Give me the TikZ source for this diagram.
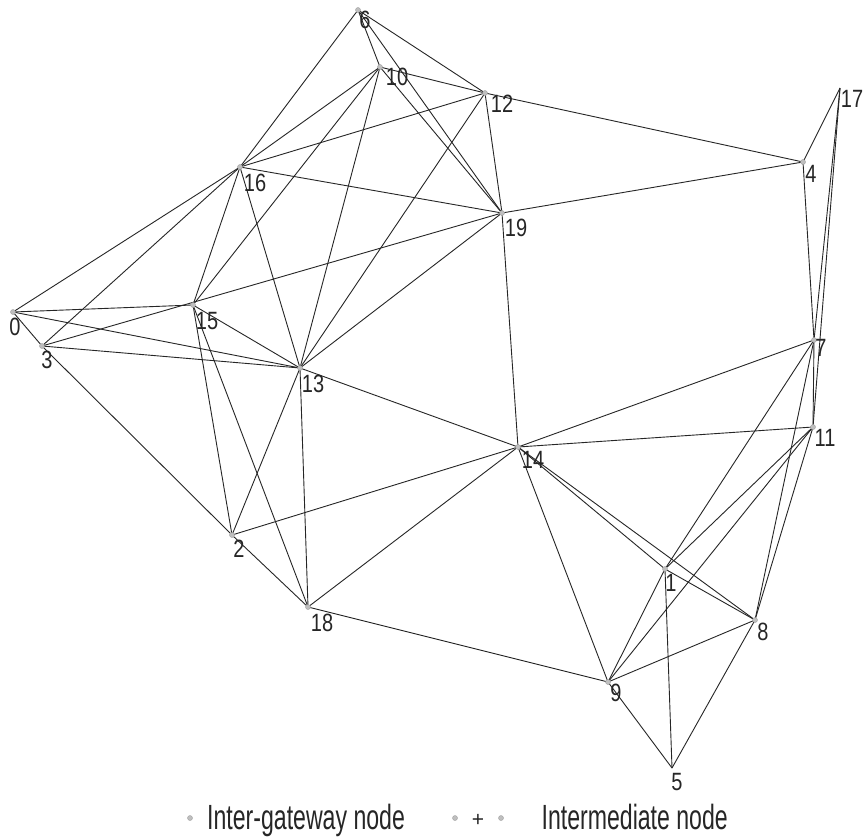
\documentclass[tikz,border=0pt]{standalone}
\usepackage{graphicx}
\usepackage{fontspec}
\setmainfont{Liberation Sans}
\newcommand{\nodelab}[1]{\scalebox{0.8}[1]{#1}}
\newcommand{\legtext}[1]{\scalebox{0.66}[1]{#1}}
\begin{document}
\begin{tikzpicture}[x=1pt,y=-1pt,
  edge/.style={draw=black!85, line width=0.9pt},
  vtx/.style={circle, fill=gray!50, draw=gray!75, line width=0.4pt, inner sep=0pt, minimum size=5pt},
  lbl/.style={inner sep=0pt, text=black!85, font=\fontsize{25}{25}\selectfont},
  leg/.style={inner sep=0pt, text=black!85, font=\fontsize{35}{35}\selectfont}]
\useasboundingbox (0,0) rectangle (864,838);
\fill[white] (0,0) rectangle (864,838);
% positions
\coordinate (c0) at (13,312);
\coordinate (c1) at (665,569);
\coordinate (c2) at (232,535);
\coordinate (c3) at (42,346);
\coordinate (c4) at (803,162);
\coordinate (c5) at (672,768);
\coordinate (c6) at (358,10);
\coordinate (c7) at (814,340);
\coordinate (c8) at (755,620);
\coordinate (c9) at (608,682);
\coordinate (c10) at (380,67);
\coordinate (c11) at (813,427);
\coordinate (c12) at (485,93);
\coordinate (c13) at (300,368);
\coordinate (c14) at (518,447);
\coordinate (c15) at (193,305);
\coordinate (c16) at (240,167);
\coordinate (c17) at (840,88);
\coordinate (c18) at (308,607);
\coordinate (c19) at (502,213);
% edges
\foreach \a/\b in {6/16,6/12,6/10,6/19,
  10/12,10/16,10/19,10/15,10/13,
  12/16,12/4,12/19,12/13,
  16/19,16/0,16/3,16/15,16/13,
  19/4,19/14,19/3,19/13,
  4/17,4/7,17/7,17/11,7/11,
  0/15,0/13,0/3,
  3/13,3/2,
  15/13,15/2,15/18,
  13/2,13/18,13/14,
  2/14,2/18,
  18/14,18/9,
  14/7,14/11,14/9,14/1,14/8,
  1/7,1/11,1/9,1/5,1/8,
  9/11,9/8,9/5,
  8/11,8/7,8/5}
  \draw[edge] (c\a) -- (c\b);
% vertices
\foreach \i in {0,1,2,3,4,6,7,8,9,10,11,12,13,14,15,16,18,19}
  \node[vtx] (v\i) at (c\i) {};
% labels
\node[lbl] (l0) at (15,327) {\nodelab{0}};
\node[lbl] (l1) at (671,583) {\nodelab{1}};
\node[lbl] (l2) at (239,549) {\nodelab{2}};
\node[lbl] (l3) at (47,360) {\nodelab{3}};
\node[lbl] (l4) at (811,174) {\nodelab{4}};
\node[lbl] (l5) at (677,782) {\nodelab{5}};
\node[lbl] (l6) at (365,20) {\nodelab{6}};
\node[lbl] (l7) at (821,348) {\nodelab{7}};
\node[lbl] (l8) at (763,632) {\nodelab{8}};
\node[lbl] (l9) at (616,693) {\nodelab{9}};
\node[lbl] (l10) at (397,77) {\nodelab{10}};
\node[lbl] (l11) at (825,438) {\nodelab{11}};
\node[lbl] (l12) at (502,104) {\nodelab{12}};
\node[lbl] (l13) at (313,384) {\nodelab{13}};
\node[lbl] (l14) at (533,460) {\nodelab{14}};
\node[lbl] (l15) at (207,321) {\nodelab{15}};
\node[lbl] (l16) at (255,183) {\nodelab{16}};
\node[lbl] (l17) at (852,99) {\nodelab{17}};
\node[lbl] (l18) at (322,623) {\nodelab{18}};
\node[lbl] (l19) at (516,228) {\nodelab{19}};
% legend
\node[vtx] (gd) at (190,818) {};
\node[leg, anchor=base west] (gt) at (207,829) {\legtext{Inter-gateway node}};
\node[vtx] (id1) at (455,818) {};
\node[leg, anchor=base] (ip) at (478,826) {\scalebox{0.6}{+}};
\node[vtx] (id2) at (501,818) {};
\node[leg, anchor=base east] (it) at (728,829) {\legtext{Intermediate node}};
\end{tikzpicture}
\end{document}
